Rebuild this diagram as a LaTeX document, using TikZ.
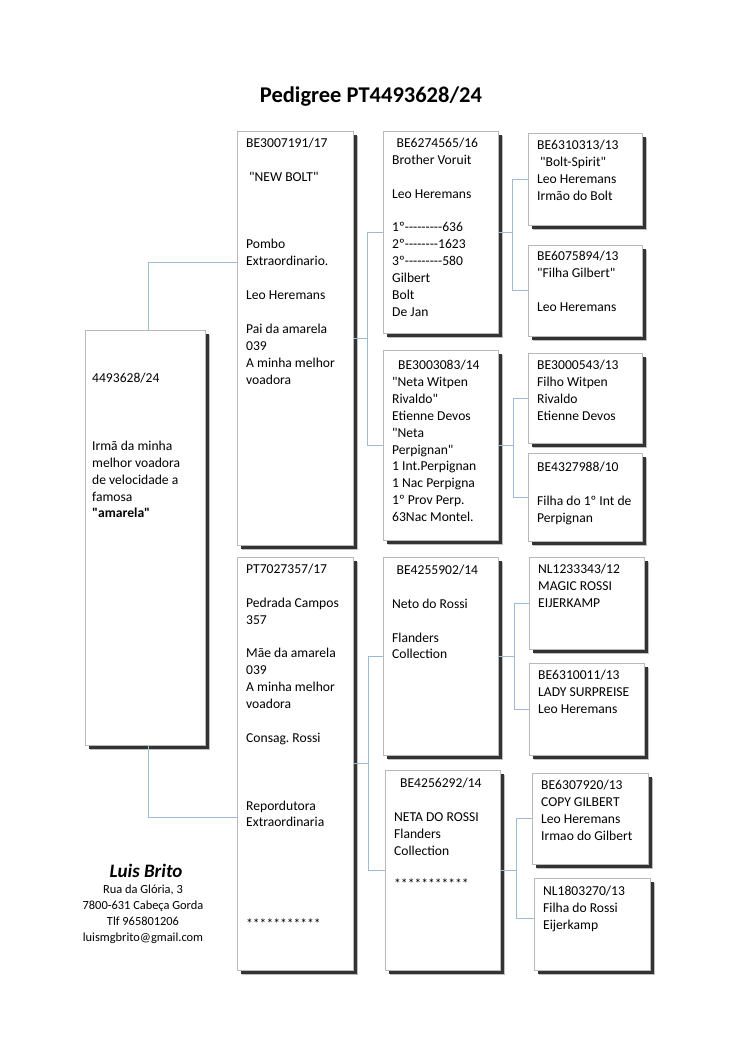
\documentclass[tikz,border=0pt]{standalone}
\usepackage{fontspec}
\setmainfont{Carlito}[Ligatures=TeXOff]
\usetikzlibrary{shadows,calc}
\definecolor{conncol}{HTML}{9DBBD6}
\frenchspacing
\newcommand\bl{\mbox{}}
\newcommand\bxt[1]{\parbox[t]{130pt}{\frenchspacing\fontsize{13.6}{16.9}\selectfont\raggedright #1}}
\tikzset{
  pbox/.style={draw=black!28, line width=0.5pt, fill=white, anchor=north west, inner sep=0pt,
    general shadow={fill=black!25, shadow xshift=5pt, shadow yshift=-5pt},
    general shadow={fill=black!80, shadow xshift=3.8pt, shadow yshift=-3.8pt}},
  ptext/.style={anchor=base west, inner sep=0pt},
  conn/.style={draw=conncol, line width=0.8pt},
}
% #1 text offset, #2 name, #3 x1, #4 y1, #5 x2, #6 y2, #7 text
\newcommand\pedbox[7][16.4]{%
  \node[pbox, minimum width={(#5-#3)*1pt}, minimum height={(#6-#4)*1pt}] (#2) at (#3,#4) {};
  \node[ptext] (#2t) at ([shift={(9pt,-#1pt)}]#2.north west) {\bxt{#7}};
}
\begin{document}
\begin{tikzpicture}[x=1pt,y=-1pt]
\useasboundingbox (0,0) rectangle (750,1060);
\fill[white] (0,0) rectangle (750,1060);

\node[anchor=base, inner sep=0pt, font=\fontsize{22.5}{27}\selectfont\bfseries] (title) at (371,102.5) {Pedigree PT4493628/24};

% generation 1
\pedbox[18.9]{A}{85}{330}{205}{745}{\hspace*{-2pt}\bl\\ \bl\\ \hspace*{-2pt}4493628/24\\ \bl\\ \bl\\ \bl\\ \hspace*{-2pt}Irmã da minha\\ \hspace*{-2pt}melhor voadora\\ \hspace*{-2pt}de velocidade a\\ \hspace*{-2pt}famosa\\ \hspace*{-2pt}\textbf{"amarela"}}

% generation 2
\pedbox{S}{237}{131}{353}{545}{BE3007191/17\\ \bl\\ \hspace*{3pt}"NEW BOLT"\\ \bl\\ \bl\\ \bl\\ Pombo\\ Extraordinario.\\ \bl\\ Leo Heremans\\ \bl\\ Pai da amarela\\ 039\\ A minha melhor\\ voadora}
\pedbox{D}{237}{557}{353}{970}{PT7027357/17\\ \bl\\ Pedrada Campos\\ 357\\ \bl\\ Mãe da amarela\\ 039\\ A minha melhor\\ voadora\\ \bl\\ Consag. Rossi\\ \bl\\ \bl\\ \bl\\ Repordutora\\ Extraordinaria\\ \bl\\ \bl\\ \bl\\ \bl\\ \bl\\ ************}

% generation 3
\pedbox{SS}{383}{131}{498}{333}{\hspace*{4.5pt}BE6274565/16\\ Brother Voruit\\ \bl\\ Leo Heremans\\ \bl\\ 1º---------636\\ 2º--------1623\\ 3º---------580\\ Gilbert\\ Bolt\\ De Jan}
\pedbox[19.5]{SD}{383}{350}{498}{540}{\hspace*{6pt}BE3003083/14\\ "Neta Witpen\\ Rivaldo"\\ Etienne Devos\\ "Neta\\ Perpignan"\\ 1 Int.Perpignan\\ 1 Nac Perpigna\\ 1º Prov Perp.\\ 63Nac Montel.}
\pedbox[17.4]{DS}{383}{557}{498}{755}{\hspace*{4.5pt}BE4255902/14\\ \bl\\ Neto do Rossi\\ \bl\\ Flanders\\ Collection}
\pedbox[17.4]{DD}{385}{770}{500}{970}{\hspace*{6pt}BE4256292/14\\ \bl\\ NETA DO ROSSI\\ Flanders\\ Collection\\ \bl\\ ************}

% generation 4
\pedbox{SSS}{528}{133}{642}{225}{BE6310313/13\\ \hspace*{3pt}"Bolt-Spirit"\\ Leo Heremans\\ Irmão do Bolt}
\pedbox[15.4]{SSD}{528}{245}{642}{336}{BE6075894/13\\ "Filha Gilbert"\\ \bl\\ Leo Heremans}
\pedbox{SDS}{528}{353}{642}{443}{BE3000543/13\\ Filho Witpen\\ Rivaldo\\ Etienne Devos}
\pedbox[18.4]{SDD}{528}{453}{642}{541}{BE4327988/10\\ \bl\\ Filha do 1º Int de\\ Perpignan}
\pedbox{DSS}{529}{557}{644}{649}{NL1233343/12\\ MAGIC ROSSI\\ EIJERKAMP}
\pedbox{DSD}{529}{663}{644}{755}{BE6310011/13\\ LADY SURPREISE\\ Leo Heremans}
\pedbox{DDS}{532}{773}{648}{864}{BE6307920/13\\ COPY GILBERT\\ Leo Heremans\\ Irmao do Gilbert}
\pedbox[17.4]{DDD}{534}{878}{650}{970}{NL1803270/13\\ Filha do Rossi\\ Eijerkamp}

% connectors
\draw[conn] ([xshift=3pt]A.north) |- ([yshift=76pt]S.west);
\draw[conn] ([xshift=3pt]A.south) |- ([yshift=-53.5pt]D.west);

\coordinate (jS) at ([xshift=14pt]S.east);
\draw[conn] (S.east) -- (jS);
\draw[conn] (SS.west) -| (jS) |- (SD.west);

\coordinate (jD) at ([xshift=15pt]D.east);
\draw[conn] (D.east) -- (jD);
\draw[conn] (DS.west) -| (jD) |- (DD.west);

\coordinate (jSS) at ([xshift=14pt]SS.east);
\draw[conn] (SS.east) -- (jSS);
\draw[conn] (SSS.west) -| (jSS) |- (SSD.west);

\coordinate (jSD) at ([xshift=15pt]SD.east);
\draw[conn] (SD.east) -- (jSD);
\draw[conn] (SDS.west) -| (jSD) |- (SDD.west);

\coordinate (jDS) at ([xshift=16pt]DS.east);
\draw[conn] (DS.east) -- (jDS);
\draw[conn] (DSS.west) -| (jDS) |- (DSD.west);

\coordinate (jDD) at ([xshift=16pt]DD.east);
\draw[conn] (DD.east) -- (jDD);
\draw[conn] (DDS.west) -| (jDD) |- ([yshift=6pt]DDD.west);

% footer
\node[anchor=base, inner sep=0pt, font=\fontsize{19}{22}\selectfont\bfseries\itshape] (name) at (146,877) {Luis Brito};
\node[anchor=base, inner sep=0pt] (addr) at (143,893) {\parbox[t]{200pt}{\centering\fontsize{12.4}{16}\selectfont Rua da Glória, 3\\ 7800-631 Cabeça Gorda\\ Tlf 965801206\\ luismgbrito@gmail.com}};
\end{tikzpicture}
\end{document}
